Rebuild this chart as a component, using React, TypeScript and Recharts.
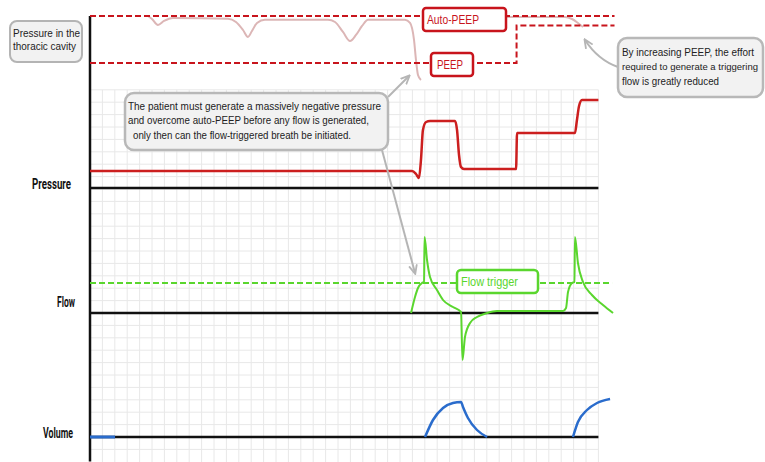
import { ComposedChart, Line, XAxis, YAxis, ReferenceLine } from "recharts";

const W = 765;
const H = 462;
const CELL = 12.4; // px per grid cell (time unit = one grid cell)
const LEFT = 90;
const T_MAX = 42.4;

// thoracic pressure (cmH2O)
const autoPeepTimes = [0, 42.3];
const autoPeepValues = [10, 10];
const peepTimes = [0, 34.4, 34.4, 42.3];
const peepValues = [5, 5, 9, 9];
const thoraxTimes = [4.68, 5.0, 5.48, 5.97, 6.69, 11.13, 11.77, 12.34, 12.74, 13.06, 13.47, 14.11, 19.19, 19.76, 20.4, 20.97, 21.45, 21.94, 22.42, 25.4, 25.81, 26.13, 26.29, 26.45, 26.69];
const thoraxValues = [10, 9.68, 9.04, 9.47, 9.79, 9.7, 9.36, 8.51, 7.77, 8.4, 9.26, 9.6, 9.6, 9.36, 8.3, 7.34, 7.98, 8.94, 9.6, 9.6, 9.26, 7.45, 5.32, 3.72, 3.19];
const thorax2Times = [33.63, 38.31, 38.87, 39.35, 39.76];
const thorax2Values = [9.89, 9.89, 9.68, 9.26, 8.83];

// airway pressure
const pressureTimes = [0, 25.97, 26.29, 26.53, 26.69, 26.85, 27.1, 27.42, 29.44, 29.6, 29.76, 29.92, 30.16, 34.36, 34.44, 39.11, 39.27, 39.44, 39.68, 41.0];
const pressureValues = [4.25, 4.25, 3.5, 2.5, 7, 14.5, 16.5, 16.75, 16.75, 14.5, 8.25, 5.25, 4.75, 4.75, 13.75, 13.75, 17, 20.5, 22, 22];

// flow
const triggerTimes = [0, 42.1];
const triggerValues = [7.5, 7.5];
const flowTimes = [25.89, 26.21, 26.45, 26.77, 26.94, 26.98, 27.18, 27.42, 27.98, 28.47, 29.27, 29.92, 30.04, 30.24, 30.65, 31.21, 32.02, 32.82, 38.15, 38.39, 38.55, 38.87, 39.07, 39.11, 39.35, 39.76, 40.48, 41.37, 42.18];
const flowValues = [0, 4, 6.25, 7.5, 7.75, 19, 13.25, 9, 5.75, 3.25, 1.5, 0.25, -11.75, -6, -2.5, -1, 0, 0.5, 0.5, 1.25, 5.25, 7.5, 7.75, 19, 12.5, 7.75, 4.5, 2, 0];

// volume
const volStartTimes = [0, 2.02];
const volStartValues = [0, 0];
const vol1Times = [27.02, 27.66, 28.47, 29.27, 29.92, 30.08, 30.48, 31.21, 32.02];
const vol1Values = [0, 4.25, 7.25, 8.5, 8.75, 7.5, 4.75, 1.75, 0];
const vol2Times = [38.95, 39.35, 40.08, 40.89, 41.94];
const vol2Values = [0, 3.75, 6.75, 8.5, 9.5];

const zip = (ts: number[], vs: number[]) => ts.map((t, i) => ({ t, v: vs[i] }));

// puts value 0 at zeroPx with pxPerUnit scale
const domainFor = (zeroPx: number, pxPerUnit: number): [number, number] => [
  (zeroPx - H) / pxPerUnit,
  zeroPx / pxPerUnit,
];

const GRID_COLS = 41;
const gridRows = Array.from({ length: 30 }, (_, i) => i - 1);
const gridCols = Array.from({ length: GRID_COLS }, (_, i) => i + 1);

const RED = "#c8141c";
const GREEN = "#5ad62e";
const GREY = "#b5b5b5";

const Label = ({ x, y, len, children }: { x: number; y: number; len: number; children: string }) => (
  <text x={x} y={y} fontFamily="Roboto, 'DejaVu Sans'" fontWeight="bold" fontSize={14} fill="#111" textLength={len} lengthAdjust="spacingAndGlyphs">
    {children}
  </text>
);

const Note = ({ x, y, len, size = 11, fill = "#222", children }: { x: number; y: number; len: number; size?: number; fill?: string; children: string }) => (
  <text x={x} y={y} fontFamily="'Liberation Sans', Arial, sans-serif" fontSize={size} fill={fill} textLength={len} lengthAdjust="spacingAndGlyphs">
    {children}
  </text>
);

const Overlay = () => (
  <svg width={W} height={H} style={{ position: "absolute", left: 0, top: 0, pointerEvents: "none" }}>
    <defs>
      <marker id="arrow" markerWidth="10" markerHeight="10" refX="8" refY="5" orient="auto" markerUnits="userSpaceOnUse">
        <path d="M0,1 L9,5 L0,9" fill="none" stroke={GREY} strokeWidth={1.8} />
      </marker>
    </defs>
    {/* arrows */}
    <line x1={388} y1={97} x2={409} y2={76} stroke={GREY} strokeWidth={2} markerEnd="url(#arrow)" />
    <line x1={382} y1={150} x2={415} y2={273} stroke={GREY} strokeWidth={2} markerEnd="url(#arrow)" />
    <path d="M618,67 Q598,60 585,40" fill="none" stroke={GREY} strokeWidth={2} markerEnd="url(#arrow)" />

    {/* thoracic label */}
    <rect x={10} y={21} width={72} height={41} rx={7} fill="#f2f2f2" stroke="#b4b4b4" strokeWidth={2} />
    <Note x={13} y={37} len={67} size={10.5}>Pressure in the</Note>
    <Note x={13} y={50} len={63} size={10.5}>thoracic cavity</Note>

    {/* note 1 */}
    <rect x={125} y={93} width={263} height={57} rx={9} fill="#f2f2f2" stroke="#b8b8b8" strokeWidth={2.5} />
    <Note x={128} y={110} len={253}>The patient must generate a massively negative pressure</Note>
    <Note x={128} y={124} len={241}>and overcome auto-PEEP before any flow is generated,</Note>
    <Note x={133} y={139} len={218}>only then can the flow-triggered breath be initiated.</Note>

    {/* note 2 */}
    <rect x={618} y={38} width={145} height={59} rx={9} fill="#f2f2f2" stroke="#b8b8b8" strokeWidth={2.5} />
    <Note x={622} y={56} len={132} size={10}>By increasing PEEP, the effort</Note>
    <Note x={622} y={70} len={136} size={9.5}>required to generate a triggering</Note>
    <Note x={622} y={85} len={97} size={10}>flow is greatly reduced</Note>

    {/* Auto-PEEP / PEEP tags */}
    <rect x={423} y={8} width={83} height={23} rx={3} fill="#fff" stroke={RED} strokeWidth={2.5} />
    <Note x={427} y={24} len={52} size={12.5} fill={RED}>Auto-PEEP</Note>
    <rect x={431} y={53} width={42} height={23} rx={3} fill="#fff" stroke={RED} strokeWidth={2.5} />
    <Note x={437} y={69} len={26} size={12.5} fill={RED}>PEEP</Note>

    {/* flow trigger tag */}
    <rect x={457} y={270} width={81} height={23} rx={4} fill="#fff" stroke={GREEN} strokeWidth={2.5} />
    <Note x={461} y={286} len={57} size={12} fill={GREEN}>Flow trigger</Note>

    {/* panel labels */}
    <Label x={32} y={189} len={39}>Pressure</Label>
    <Label x={57} y={307} len={18}>Flow</Label>
    <Label x={43} y={438} len={30}>Volume</Label>
  </svg>
);

export default function App() {
  return (
    <div style={{ position: "absolute", left: 0, top: 0, width: W, height: H, background: "#fff", overflow: "hidden" }}>
      <ComposedChart width={W} height={H} margin={{ top: 0, right: W - LEFT - T_MAX * CELL, bottom: 0, left: LEFT }}>
        <XAxis dataKey="t" type="number" domain={[0, T_MAX]} hide allowDataOverflow />
        <YAxis yAxisId="grid" type="number" domain={domainFor(437, CELL)} hide allowDataOverflow />
        <YAxis yAxisId="thorax" type="number" domain={domainFor(110, 9.4)} hide allowDataOverflow />
        <YAxis yAxisId="pressure" type="number" domain={domainFor(188, 4)} hide allowDataOverflow />
        <YAxis yAxisId="flow" type="number" domain={domainFor(313, 4)} hide allowDataOverflow />
        <YAxis yAxisId="volume" type="number" domain={domainFor(437, 4)} hide allowDataOverflow />

        {gridCols.map((k) => (
          <ReferenceLine key={"c" + k} yAxisId="grid" segment={[{ x: k, y: -2.1 }, { x: k, y: 28 }]} stroke="#e8e8e8" strokeWidth={1} ifOverflow="visible" />
        ))}
        {gridRows.map((k) => (
          <ReferenceLine key={"r" + k} yAxisId="grid" segment={[{ x: 0, y: k }, { x: GRID_COLS, y: k }]} stroke="#e8e8e8" strokeWidth={1} ifOverflow="visible" />
        ))}

        <ReferenceLine yAxisId="thorax" segment={[{ x: 0, y: 10 }, { x: 0, y: -37.4 }]} stroke="#111" strokeWidth={2.5} ifOverflow="visible" />
        <ReferenceLine yAxisId="pressure" segment={[{ x: 0, y: 0 }, { x: GRID_COLS, y: 0 }]} stroke="#111" strokeWidth={2.5} ifOverflow="visible" />
        <ReferenceLine yAxisId="flow" segment={[{ x: 0, y: 0 }, { x: GRID_COLS, y: 0 }]} stroke="#111" strokeWidth={2.5} ifOverflow="visible" />
        <ReferenceLine yAxisId="volume" segment={[{ x: 0, y: 0 }, { x: GRID_COLS, y: 0 }]} stroke="#111" strokeWidth={2.5} ifOverflow="visible" />

        <Line yAxisId="thorax" data={zip(thoraxTimes, thoraxValues)} dataKey="v" type="monotone" stroke="#dcb6b6" strokeWidth={2} dot={false} activeDot={false} isAnimationActive={false} />
        <Line yAxisId="thorax" data={zip(thorax2Times, thorax2Values)} dataKey="v" type="monotone" stroke="#dcb6b6" strokeWidth={2} dot={false} activeDot={false} isAnimationActive={false} />
        <Line yAxisId="thorax" data={zip(autoPeepTimes, autoPeepValues)} dataKey="v" type="linear" stroke={RED} strokeWidth={2} strokeDasharray="6 3" dot={false} activeDot={false} isAnimationActive={false} />
        <Line yAxisId="thorax" data={zip(peepTimes, peepValues)} dataKey="v" type="linear" stroke={RED} strokeWidth={2} strokeDasharray="6 3" dot={false} activeDot={false} isAnimationActive={false} />

        <Line yAxisId="pressure" data={zip(pressureTimes, pressureValues)} dataKey="v" type="monotone" stroke="#cc1f1f" strokeWidth={2.5} dot={false} activeDot={false} isAnimationActive={false} />

        <Line yAxisId="flow" data={zip(triggerTimes, triggerValues)} dataKey="v" type="linear" stroke={GREEN} strokeWidth={2} strokeDasharray="6 3" dot={false} activeDot={false} isAnimationActive={false} />
        <Line yAxisId="flow" data={zip(flowTimes, flowValues)} dataKey="v" type="monotone" stroke={GREEN} strokeWidth={2} dot={false} activeDot={false} isAnimationActive={false} />

        <Line yAxisId="volume" data={zip(volStartTimes, volStartValues)} dataKey="v" type="linear" stroke="#2a6ccc" strokeWidth={3} dot={false} activeDot={false} isAnimationActive={false} />
        <Line yAxisId="volume" data={zip(vol1Times, vol1Values)} dataKey="v" type="monotone" stroke="#2a6ccc" strokeWidth={2.5} dot={false} activeDot={false} isAnimationActive={false} />
        <Line yAxisId="volume" data={zip(vol2Times, vol2Values)} dataKey="v" type="monotone" stroke="#2a6ccc" strokeWidth={2.5} dot={false} activeDot={false} isAnimationActive={false} />
      </ComposedChart>
      <Overlay />
    </div>
  );
}
